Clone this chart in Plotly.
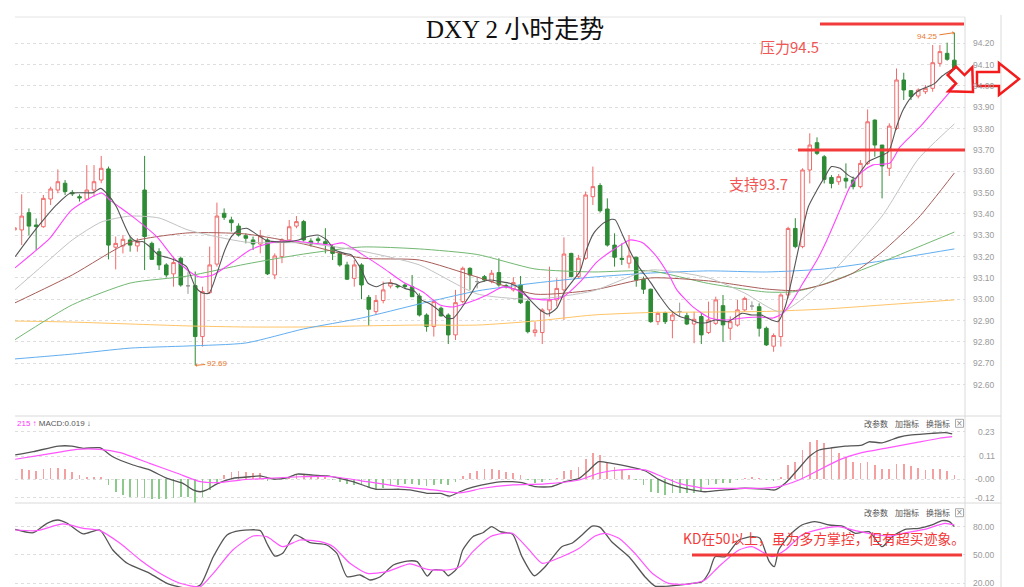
import plotly.graph_objects as go

# ---------------- data ----------------
candle_idx = list(range(-1, 130))
opens = [93.325,
 93.325, 93.406, 93.348, 93.340, 93.470, 93.512, 93.544, 93.501, 93.481, 93.469,
 93.512, 93.559, 93.611, 93.244, 93.250, 93.278, 93.250, 93.512, 93.262, 93.223,
 93.161, 93.119, 93.192, 93.063, 93.064, 92.825, 93.031, 93.165, 93.403, 93.372,
 93.343, 93.298, 93.278, 93.259, 93.278, 93.114, 93.200, 93.278, 93.343, 93.364,
 93.273, 93.283, 93.270, 93.247, 93.215, 93.161, 93.098, 93.161, 93.009, 92.942,
 92.994, 93.062, 93.062, 93.067, 93.059, 93.015, 92.926, 92.872, 92.958, 92.926,
 92.833, 92.989, 93.145, 93.083, 93.106, 93.083, 93.125, 93.064, 93.044, 93.067,
 92.989, 92.844, 92.844, 92.950, 92.997, 93.044, 93.215, 93.106, 93.192, 93.481,
 93.533, 93.423, 93.254, 93.192, 93.169, 93.197, 93.094, 93.047, 92.895, 92.937,
 92.900, 92.942, 92.923, 92.884, 92.919, 92.844, 92.887, 92.970, 92.864, 92.879,
 92.950, 92.968, 92.965, 92.864, 92.780, 92.825, 93.020, 93.332, 93.247, 93.606,
 93.734, 93.668, 93.571, 93.551, 93.567, 93.559, 93.528, 93.637, 93.840, 93.723,
 93.614, 93.801, 94.028, 93.978, 93.953, 93.973, 93.989, 94.106, 94.153, 94.121]
highs = [93.345,
 93.492, 93.426, 93.379, 93.489, 93.528, 93.609, 93.559, 93.512, 93.492, 93.629,
 93.629, 93.672, 93.622, 93.294, 93.301, 93.294, 93.286, 93.672, 93.270, 93.239,
 93.169, 93.200, 93.200, 93.130, 93.130, 93.059, 93.247, 93.453, 93.426, 93.387,
 93.356, 93.309, 93.294, 93.325, 93.286, 93.215, 93.286, 93.372, 93.390, 93.372,
 93.286, 93.294, 93.333, 93.254, 93.223, 93.176, 93.184, 93.169, 93.020, 93.020,
 93.083, 93.094, 93.067, 93.075, 93.114, 93.028, 92.934, 93.000, 92.966, 92.934,
 93.044, 93.153, 93.150, 93.106, 93.114, 93.137, 93.192, 93.072, 93.103, 93.109,
 92.997, 92.895, 92.958, 93.153, 93.098, 93.290, 93.218, 93.208, 93.505, 93.622,
 93.544, 93.473, 93.309, 93.262, 93.301, 93.200, 93.106, 93.050, 92.942, 92.942,
 92.942, 92.984, 92.937, 92.942, 92.937, 92.989, 93.012, 93.020, 92.920, 92.997,
 93.012, 92.990, 92.981, 92.872, 92.840, 93.028, 93.340, 93.380, 93.614, 93.778,
 93.759, 93.676, 93.582, 93.587, 93.637, 93.575, 93.653, 93.890, 93.843, 93.723,
 93.825, 94.082, 94.062, 93.981, 93.989, 94.004, 94.192, 94.192, 94.203, 94.250]
lows = [93.310,
 93.254, 93.300, 93.231, 93.335, 93.442, 93.497, 93.489, 93.484, 93.458, 93.465,
 93.481, 93.544, 93.187, 93.140, 93.215, 93.223, 93.223, 93.137, 93.184, 93.137,
 93.103, 93.059, 93.059, 93.025, 92.690, 92.778, 93.025, 93.153, 93.372, 93.317,
 93.294, 93.262, 93.231, 93.215, 93.114, 93.094, 93.169, 93.270, 93.333, 93.270,
 93.247, 93.262, 93.215, 93.184, 93.153, 93.090, 93.059, 93.000, 92.875, 92.926,
 92.981, 93.051, 93.051, 93.051, 93.012, 92.919, 92.848, 92.825, 92.919, 92.790,
 92.809, 92.981, 93.044, 93.051, 93.083, 93.075, 93.059, 93.051, 93.036, 92.978,
 92.840, 92.825, 92.790, 92.919, 92.966, 92.903, 93.103, 93.098, 93.184, 93.442,
 93.406, 93.247, 93.153, 93.161, 93.145, 93.059, 93.025, 92.890, 92.879, 92.884,
 92.817, 92.919, 92.879, 92.794, 92.790, 92.837, 92.879, 92.800, 92.809, 92.872,
 92.942, 92.950, 92.825, 92.781, 92.754, 92.778, 93.004, 93.239, 93.239, 93.543,
 93.676, 93.543, 93.520, 93.536, 93.520, 93.515, 93.520, 93.629, 93.668, 93.473,
 93.578, 93.793, 93.934, 93.934, 93.942, 93.962, 93.973, 94.090, 94.118, 94.075]
closes = [93.335,
 93.390, 93.343, 93.341, 93.473, 93.517, 93.551, 93.505, 93.494, 93.475, 93.512,
 93.551, 93.614, 93.254, 93.262, 93.281, 93.254, 93.270, 93.294, 93.187, 93.161,
 93.114, 93.172, 93.067, 93.063, 92.825, 93.036, 93.161, 93.390, 93.384, 93.359,
 93.301, 93.286, 93.259, 93.297, 93.119, 93.203, 93.278, 93.340, 93.364, 93.278,
 93.259, 93.275, 93.259, 93.215, 93.161, 93.094, 93.161, 93.067, 92.953, 92.994,
 93.044, 93.078, 93.059, 93.059, 93.012, 92.926, 92.872, 92.989, 92.922, 92.833,
 92.984, 93.145, 93.114, 93.083, 93.090, 93.122, 93.067, 93.059, 93.078, 92.984,
 92.848, 92.856, 92.950, 92.997, 93.051, 93.212, 93.106, 93.192, 93.489, 93.528,
 93.415, 93.254, 93.197, 93.187, 93.203, 93.090, 93.047, 92.895, 92.934, 92.895,
 92.926, 92.942, 92.884, 92.906, 92.833, 92.903, 92.997, 92.880, 92.895, 92.950,
 93.004, 92.968, 92.864, 92.786, 92.830, 93.020, 93.332, 93.247, 93.606, 93.723,
 93.684, 93.562, 93.543, 93.575, 93.554, 93.528, 93.637, 93.832, 93.723, 93.625,
 93.812, 94.028, 93.981, 93.950, 93.981, 93.989, 94.109, 94.161, 94.125, 94.082]
doji_idx = [23, 63, 91, 101]

# moving averages (candle position, price)
ma5_idx = [-0.9, 1.15, 3.0, 4.8, 6.7, 9.9, 10.9, 11.75, 13.1, 14.1, 15.0, 15.9, 16.8, 17.7, 18.9,
           20.0, 21.4, 22.8, 24.0, 24.9, 25.9, 27.0, 28.1, 29.0, 30.0, 31.1, 32.3, 33.7, 35.0, 36.9,
           38.3, 39.6, 41.0, 42.2, 43.3, 44.7, 45.6, 47.0, 47.9, 49.1, 50.2, 51.6, 53.0, 54.4, 55.3,
           56.5, 57.6, 58.8, 59.7, 60.8, 62.2, 63.1, 64.8, 66.2, 67.5, 68.9, 70.3, 71.7, 72.8, 74.0,
           75.1, 76.3, 77.2, 78.1, 79.1, 80.4, 81.6, 82.1, 83.2, 84.4, 85.5, 86.9, 88.3, 89.7, 91.0,
           92.4, 93.6, 94.7, 95.9, 97.7, 99.6, 101.0, 102.3, 103.7, 104.6, 105.6, 106.5, 107.9, 108.8,
           110.0, 111.1, 112.0, 113.2, 114.3, 115.3, 116.2, 117.1, 118.5, 119.9, 121.0, 121.9, 123.1,
           124.2, 125.4, 126.3, 127.2, 128.2, 128.9]
ma5_val = [93.200, 93.294, 93.372, 93.442, 93.497, 93.500, 93.520, 93.497, 93.434, 93.356, 93.294,
           93.270, 93.270, 93.247, 93.208, 93.197, 93.181, 93.153, 93.059, 93.031, 93.028, 93.122,
           93.231, 93.294, 93.325, 93.333, 93.309, 93.278, 93.270, 93.270, 93.278, 93.294, 93.301,
           93.278, 93.231, 93.215, 93.208, 93.137, 93.075, 93.059, 93.075, 93.072, 93.051, 93.036,
           92.997, 92.978, 92.950, 92.911, 92.911, 92.958, 93.028, 93.075, 93.090, 93.083, 93.075,
           93.051, 92.997, 92.950, 92.931, 92.958, 93.036, 93.090, 93.130, 93.231, 93.309, 93.356,
           93.375, 93.372, 93.294, 93.208, 93.145, 93.083, 93.012, 92.950, 92.919, 92.906, 92.890,
           92.890, 92.903, 92.895, 92.934, 92.926, 92.926, 92.903, 92.895, 92.965, 93.090, 93.309,
           93.434, 93.512, 93.575, 93.622, 93.614, 93.582, 93.567, 93.606, 93.645, 93.668, 93.692,
           93.809, 93.887, 93.950, 93.981, 93.997, 94.012, 94.043, 94.067, 94.083]
ma10_idx = [-0.93, 1.56, 3.91, 6.92, 11.07, 12.21, 15.39, 18.71, 20.93, 23.28, 24.66, 26.46, 29.23,
            31.58, 34.34, 37.11, 40.15, 42.64, 44.44, 47.21, 49.97, 52.74, 55.51, 57.86, 59.66, 62.0,
            64.36, 66.57, 68.51, 70.31, 72.66, 74.87, 77.22, 79.57, 81.78, 84.13, 85.93, 87.87, 89.67,
            90.64, 92.85, 95.2, 97.55, 99.76, 102.12, 103.91, 105.3, 106.68, 108.06, 110.0, 111.38,
            113.18, 114.56, 116.22, 117.75, 120.1, 121.48, 124.24, 126.6, 128.95]
ma10_val = [93.147, 93.217, 93.287, 93.419, 93.498, 93.465, 93.386, 93.292, 93.198, 93.128, 93.104,
            93.114, 93.175, 93.231, 93.264, 93.274, 93.264, 93.255, 93.264, 93.208, 93.147, 93.081,
            93.034, 92.973, 92.964, 92.987, 93.020, 93.058, 93.043, 93.006, 92.997, 93.011, 93.081,
            93.175, 93.231, 93.278, 93.264, 93.198, 93.104, 93.043, 92.964, 92.912, 92.903, 92.912,
            92.917, 92.912, 92.935, 92.997, 93.076, 93.184, 93.278, 93.419, 93.527, 93.597, 93.630,
            93.639, 93.714, 93.808, 93.902, 93.995]
ma20_idx = [-1, 3, 7, 11, 15, 19, 23, 31, 39, 47, 55, 63, 71, 79, 87, 95, 100, 105, 111, 119, 124, 129]
ma20_val = [93.043, 93.161, 93.278, 93.362, 93.390, 93.381, 93.325, 93.268, 93.264, 93.226, 93.161,
            93.025, 93.000, 93.039, 93.137, 93.100, 93.029, 92.940, 93.090, 93.390, 93.657, 93.822]
ma30_idx = [-1, 7, 15, 23, 31, 39, 47, 55, 63, 71, 79, 87, 95, 103, 107, 111, 115, 119, 124, 129]
ma30_val = [92.982, 93.114, 93.268, 93.311, 93.306, 93.259, 93.193, 93.184, 93.104, 93.024, 93.043,
            93.100, 93.086, 93.048, 93.041, 93.070, 93.123, 93.222, 93.381, 93.592]
ma60_idx = [-1, 7, 15, 23, 31, 39, 47, 55, 63, 71, 79, 87, 95, 103, 107, 111, 119, 124, 129]
ma60_val = [92.809, 92.974, 93.076, 93.109, 93.165, 93.212, 93.245, 93.236, 93.210, 93.142, 93.128,
            93.133, 93.074, 93.034, 93.036, 93.072, 93.175, 93.245, 93.315]
slow_idx = [-1, 7, 15, 23, 31, 39, 47, 55, 63, 71, 79, 87, 95, 103, 111, 119, 129]
ma120_val = [92.720, 92.743, 92.771, 92.781, 92.795, 92.861, 92.912, 92.978, 93.039, 93.076, 93.104,
             93.123, 93.133, 93.128, 93.142, 93.180, 93.236]
ma250_val = [92.898, 92.893, 92.884, 92.875, 92.870, 92.870, 92.875, 92.879, 92.879, 92.898, 92.926,
             92.938, 92.940, 92.943, 92.954, 92.973, 92.997]

# MACD
dif_idx = [-0.9, 1.6, 5.1, 6.9, 8.5, 10.8, 12.6, 15.4, 17.7, 20.1, 22.3, 23.7, 24.7, 25.6, 27.0, 29.2,
           31.6, 33.0, 34.8, 36.7, 38.1, 40.3, 42.2, 44.0, 45.8, 47.8, 49.1, 52.3, 53.7, 56.1, 57.9,
           59.2, 60.6, 62.4, 64.8, 66.6, 67.9, 69.2, 71.0, 73.3, 75.1, 77.1, 78.5, 79.8, 81.6, 84.0,
           86.2, 88.1, 89.9, 92.7, 94.5, 97.3, 100.0, 102.8, 104.2, 105.6, 107.5, 108.9, 110.3, 112.1,
           113.9, 116.2, 117.2, 119.0, 121.3, 123.1, 125.9, 127.7, 128.7]
dif_val = [0.117, 0.133, 0.160, 0.160, 0.149, 0.152, 0.108, 0.068, 0.044, 0.003, -0.021, -0.053,
           -0.062, -0.053, -0.024, 0.003, 0.011, 0.015, 0.000, 0.006, 0.024, 0.019, 0.015, 0.003,
           -0.013, -0.037, -0.050, -0.050, -0.053, -0.070, -0.070, -0.083, -0.062, -0.040, -0.021,
           -0.013, -0.013, -0.018, -0.037, -0.037, -0.013, 0.003, 0.044, 0.084, 0.076, 0.060, 0.040,
           -0.002, -0.029, -0.053, -0.062, -0.053, -0.045, -0.049, -0.053, -0.021, 0.052, 0.108,
           0.141, 0.152, 0.160, 0.165, 0.181, 0.176, 0.203, 0.214, 0.222, 0.225, 0.219]
dea_idx = [-0.9, 2.9, 7.6, 10.8, 13.6, 17.7, 21.5, 24.7, 27.0, 30.2, 33.9, 38.5, 43.1, 47.8, 52.3, 56.9,
           60.6, 63.8, 67.9, 72.4, 77.1, 79.8, 81.6, 84.0, 86.2, 88.6, 90.9, 94.5, 97.8, 102.4, 104.7,
           107.5, 110.3, 113.0, 116.2, 119.4, 123.1, 126.9, 128.7]
dea_val = [0.096, 0.117, 0.144, 0.144, 0.128, 0.076, 0.028, -0.013, -0.018, -0.005, 0.003, 0.011,
           0.011, -0.013, -0.037, -0.053, -0.067, -0.045, -0.029, -0.024, -0.005, 0.028, 0.040, 0.047,
           0.044, 0.011, -0.021, -0.045, -0.045, -0.045, -0.037, -0.005, 0.044, 0.092, 0.128, 0.149,
           0.173, 0.198, 0.206]
macd_hist = [0.047, 0.044, 0.040, 0.047, 0.052, 0.055, 0.047, 0.036, 0.019, 0.011, 0.011, 0.011,
             -0.029, -0.062, -0.078, -0.086, -0.089, -0.094, -0.099, -0.099, -0.099, -0.094, -0.089,
             -0.089, -0.118, -0.089, -0.054, -0.013,
             0.019, 0.036, 0.039, 0.036, 0.028, 0.028, -0.010, -0.005,
             0.011, 0.011, 0.024, 0.019, 0.015, 0.015, 0.011,
             -0.005, -0.013, -0.024, -0.029, -0.029, -0.040, -0.054, -0.045, -0.034, -0.029, -0.024,
             -0.024, -0.029, -0.034, -0.029, -0.024, -0.029, -0.013,
             0.015, 0.031, 0.040, 0.047, 0.047, 0.044, 0.036, 0.031, 0.019,
             -0.005, -0.018, -0.013, -0.005,
             0.003, 0.039, 0.044, 0.057, 0.096, 0.125, 0.117, 0.084, 0.057, 0.044, 0.019,
             -0.005, -0.029, -0.062, -0.070, -0.078, -0.070, -0.070, -0.067, -0.067, -0.062, -0.029,
             -0.024, -0.021, -0.018, -0.005,
             0.006, 0.011, 0.006, -0.005, -0.008,
             0.011, 0.068, 0.084, 0.141, 0.181, 0.190, 0.173, 0.149, 0.128, 0.105, 0.084, 0.076,
             0.084, 0.068, 0.047, 0.047, 0.071, 0.073, 0.063, 0.052, 0.044, 0.047, 0.047, 0.039, 0.019]
hist_idx = list(range(0, 130))

# KD
k_idx = [-0.9, 1.6, 3.5, 5.0, 6.3, 8.5, 10.8, 12.6, 14.6, 17.7, 20.1, 22.9, 24.7, 26.5, 28.4, 30.2,
         33.0, 33.9, 35.0, 36.1, 37.8, 39.9, 42.2, 43.6, 45.0, 46.8, 48.2, 49.6, 51.4, 53.3, 54.7,
         56.1, 56.9, 58.3, 59.0, 60.2, 61.0, 62.4, 63.8, 65.0, 66.2, 67.9, 69.2, 70.9, 72.4, 74.7,
         76.1, 77.5, 78.9, 80.0, 81.6, 84.0, 86.2, 87.6, 90.9, 92.7, 94.1, 95.1, 95.9, 97.3, 99.2,
         101.0, 102.1, 103.4, 104.1, 104.7, 106.1, 107.9, 109.7, 111.7, 113.5, 115.3, 117.2, 119.0,
         120.4, 122.2, 124.1, 125.9, 127.3, 128.3, 129.0]
k_val = [77.2, 73.6, 83.6, 87.1, 83.6, 72.3, 76.5, 55.3, 41.2, 30.6, 20.0, 14.7, 18.2, 48.2, 71.2,
         75.8, 75.8, 62.4, 48.9, 51.8, 71.2, 63.0, 60.6, 51.8, 27.0, 28.8, 23.5, 27.0, 39.4, 43.6,
         42.9, 27.7, 34.1, 33.4, 28.0, 35.9, 55.3, 69.4, 73.6, 80.0, 74.7, 72.0, 48.2, 28.0, 37.6,
         58.8, 62.4, 71.2, 80.7, 79.3, 64.1, 48.2, 27.0, 17.1, 18.2, 20.0, 21.7, 32.3, 48.2, 48.2,
         65.9, 69.4, 67.7, 42.9, 37.6, 55.3, 70.1, 81.8, 85.3, 81.8, 80.7, 73.0, 74.7, 58.8, 69.4,
         77.2, 78.3, 81.8, 86.4, 85.3, 80.0]
d_idx = [-0.9, 2.1, 5.7, 8.5, 10.8, 13.6, 16.4, 19.1, 21.9, 24.7, 26.5, 29.2, 32.0, 33.9, 36.1, 38.5,
         41.3, 43.1, 45.4, 47.8, 50.5, 53.7, 56.1, 58.8, 60.6, 62.4, 64.8, 66.6, 67.9, 70.2, 72.0,
         74.7, 77.1, 79.3, 80.7, 82.6, 84.8, 87.2, 89.5, 92.3, 94.5, 96.4, 99.2, 101.0, 103.8, 105.6,
         107.9, 110.3, 113.0, 115.3, 117.6, 120.0, 122.2, 124.9, 127.7, 129.0]
d_val = [76.5, 75.8, 82.9, 78.3, 75.8, 62.4, 44.7, 30.6, 20.0, 16.4, 30.6, 55.3, 70.1, 69.4, 58.8,
         65.9, 64.1, 58.8, 41.2, 30.6, 32.3, 40.5, 34.8, 34.1, 37.6, 53.5, 69.4, 73.0, 73.0, 55.3,
         41.2, 48.2, 57.1, 70.1, 73.0, 67.7, 51.8, 30.6, 20.0, 19.2, 23.5, 37.6, 55.3, 58.8, 48.2,
         55.3, 71.2, 77.2, 80.0, 75.8, 72.3, 70.1, 73.6, 77.2, 83.6, 81.8]

price_ticks = [94.20, 94.10, 94.00, 93.90, 93.80, 93.70, 93.60, 93.50, 93.40, 93.30, 93.20,
               93.10, 93.00, 92.90, 92.80, 92.70, 92.60]
macd_ticks = [0.23, 0.11, 0.0, -0.091]
macd_tick_text = ["0.23", "0.11", "-0.00", "-0.12"]
kd_ticks = [80, 50, 20]
kd_tick_text = ["80.00", "50.00", "20.00"]

# ---------------- figure ----------------
W, H = 1024, 587
def px(x):
    return x / W
def py(y):
    return 1 - y / H

UP = "#f06a6a"
DOWN = "#2e8b35"

fig = go.Figure()

normal = [k for k, i in enumerate(candle_idx) if i not in doji_idx]
dj = [k for k, i in enumerate(candle_idx) if i in doji_idx]
fig.add_trace(go.Candlestick(
    x=[candle_idx[k] for k in normal], open=[opens[k] for k in normal],
    high=[highs[k] for k in normal], low=[lows[k] for k in normal],
    close=[closes[k] for k in normal],
    increasing=dict(line=dict(color=UP, width=1), fillcolor="white"),
    decreasing=dict(line=dict(color=DOWN, width=1), fillcolor=DOWN),
    whiskerwidth=0, xaxis="x", yaxis="y", hoverinfo="skip"))
fig.add_trace(go.Candlestick(
    x=[candle_idx[k] for k in dj], open=[opens[k] for k in dj],
    high=[highs[k] for k in dj], low=[lows[k] for k in dj],
    close=[closes[k] for k in dj],
    increasing=dict(line=dict(color="#999999", width=1), fillcolor="#999999"),
    decreasing=dict(line=dict(color="#999999", width=1), fillcolor="#999999"),
    whiskerwidth=0, xaxis="x", yaxis="y", hoverinfo="skip"))

def line(xs, ys, color, width=1.0, xa="x", ya="y"):
    fig.add_trace(go.Scatter(x=xs, y=ys, mode="lines", xaxis=xa, yaxis=ya,
                             line=dict(color=color, width=width, shape="spline", smoothing=0.6),
                             hoverinfo="skip"))

line(slow_idx, ma250_val, "#ffc468")
line(slow_idx, ma120_val, "#62aef0")
line(ma60_idx, ma60_val, "#72b872")
line(ma30_idx, ma30_val, "#a85c58")
line(ma20_idx, ma20_val, "#c2c2c2")
line(ma10_idx, ma10_val, "#ff44ff", 1.1)
line(ma5_idx, ma5_val, "#555555", 1.1)

# MACD panel
fig.add_trace(go.Bar(x=hist_idx, y=macd_hist, xaxis="x2", yaxis="y2", width=0.24,
                     marker=dict(color=["#f4a0a0" if v >= 0 else "#8cca8c" for v in macd_hist],
                                 line=dict(width=0)), hoverinfo="skip"))
line(dif_idx, dif_val, "#555555", 1.3, "x2", "y2")
line(dea_idx, dea_val, "#ff55ff", 1.2, "x2", "y2")

# KD panel
line(k_idx, k_val, "#555555", 1.3, "x3", "y3")
line(d_idx, d_val, "#ff55ff", 1.2, "x3", "y3")

xdom = [px(15), px(965)]
xr = [-0.927, 130.47]
grid = dict(showgrid=True, gridcolor="#dedede", griddash="dot", gridwidth=1,
            zeroline=False, showticklabels=False, ticks="", showline=False)
fig.update_layout(
    width=W, height=H, margin=dict(l=0, r=0, t=0, b=0),
    paper_bgcolor="white", plot_bgcolor="white", showlegend=False,
    bargap=0,
    xaxis=dict(domain=xdom, range=xr, anchor="y", showgrid=False, zeroline=False,
               showticklabels=False, rangeslider=dict(visible=False), fixedrange=True),
    xaxis2=dict(domain=xdom, range=xr, anchor="y2", matches="x", showgrid=False,
                zeroline=False, showticklabels=False),
    xaxis3=dict(domain=xdom, range=xr, anchor="y3", matches="x", showgrid=False,
                zeroline=False, showticklabels=False),
    yaxis=dict(domain=[py(416), py(17)], range=[92.4527, 94.3233], tickvals=price_ticks, **grid),
    yaxis2=dict(domain=[py(503), py(416)], range=[-0.1167, 0.3063], tickvals=macd_ticks, **grid),
    yaxis3=dict(domain=[0, py(503)], range=[16.08, 105.1], tickvals=kd_ticks, **grid),
)

shapes = []
def seg(x0, y0, x1, y1, color="#dddddd", width=1):
    shapes.append(dict(type="line", xref="paper", yref="paper", x0=px(x0), y0=py(y0),
                       x1=px(x1), y1=py(y1), line=dict(color=color, width=width), layer="above"))

seg(15, 17, 965, 17, "#e4e4e4")
seg(15, 416, 1001, 416, "#dadada")
seg(15, 503, 1001, 503, "#dadada")
seg(965, 17, 965, 587, "#dadada")
seg(1001, 15, 1001, 587, "#dadada")

RED = "#f23a3a"
seg(820, 24, 964, 24, RED, 3)
shapes.append(dict(type="line", xref="paper", yref="y", x0=px(798), x1=px(965), y0=93.70, y1=93.70,
                   line=dict(color=RED, width=3), layer="above"))
shapes.append(dict(type="line", xref="paper", yref="y3", x0=px(692), x1=px(962), y0=50, y1=50,
                   line=dict(color=RED, width=3), layer="above"))

def poly(pts):
    p = "M " + " L ".join(f"{px(x):.5f},{py(y):.5f}" for x, y in pts) + " Z"
    return dict(type="path", xref="paper", yref="paper", path=p,
                line=dict(color="#f21c1c", width=2.5), fillcolor="rgba(255,255,255,0)", layer="above")

shapes.append(poly([(973, 92), (972.3, 67.3), (964.5, 75.1), (956.0, 66.6), (947.6, 75.0),
                    (956.1, 83.5), (948.3, 91.3)]))
shapes.append(poly([(977, 72), (999, 72), (999, 63), (1019, 79), (999, 95), (999, 86), (977, 86)]))

for yy in (423.3, 512.7):
    shapes.append(dict(type="rect", xref="paper", yref="paper", x0=px(955.5), x1=px(963.5),
                       y0=py(yy - 4), y1=py(yy + 4), line=dict(color="#aaaaaa", width=1)))
fig.update_layout(shapes=shapes)

ann = []
def text(x, y, s, size=9, color="#999999", anchor="left", family="Liberation Sans", yref="paper"):
    ann.append(dict(x=px(x), y=(py(y) if yref == "paper" else y), xref="paper", yref=yref,
                    text=s, showarrow=False, xanchor=anchor, yanchor="middle",
                    font=dict(size=size, color=color, family=family)))

for v in price_ticks:
    text(997, v, f"{v:.2f}", 8.5, "#9a9a9a", "right", yref="y")
for v, s in zip(macd_ticks, macd_tick_text):
    text(997, v, s, 8.5, "#9a9a9a", "right", yref="y2")
for v, s in zip(kd_ticks, kd_tick_text):
    text(997, v, s, 8.5, "#9a9a9a", "right", yref="y3")

text(515, 29, "DXY 2 小时走势", 25, "#111111", "center", "Liberation Serif, Noto Sans CJK SC")
text(758, 46, "压力94.5", 15, "#f25555", "left", "Noto Sans CJK SC")
text(727, 183, "支持93.7", 15, "#f25555", "left", "Noto Sans CJK SC")
text(681, 538, "KD在50以上，虽为多方掌控，但有超买迹象。", 13.8, "#f23a3a", "left", "Noto Sans CJK SC")

for yy in (423.3, 512.7):
    text(875.5, yy, "改参数", 8, "#555555", "center", "Noto Sans CJK SC")
    text(907, yy, "加指标", 8, "#555555", "center", "Noto Sans CJK SC")
    text(938, yy, "换指标", 8, "#555555", "center", "Noto Sans CJK SC")
    text(959.5, yy, "×", 8, "#888888", "center", "DejaVu Sans")

text(15, 423.7, "<span style='color:#ff33ff'>215 ↑</span> <span style='color:#555555'>MACD:0.019 ↓</span>",
     8, "#555555", "left", "Liberation Sans")

ann.append(dict(x=24, y=92.69, xref="x", yref="y", text="92.69", showarrow=True,
                arrowhead=1, arrowsize=0.6, arrowwidth=1, arrowcolor="#e87a30", ax=22, ay=-2,
                font=dict(size=8, color="#e87a30", family="Liberation Sans")))
ann.append(dict(x=129, y=94.25, xref="x", yref="y", text="94.25", showarrow=True,
                arrowhead=1, arrowsize=0.6, arrowwidth=1, arrowcolor="#e87a30", ax=-27, ay=4,
                font=dict(size=8, color="#e87a30", family="Liberation Sans")))
fig.update_layout(annotations=ann)

fig.write_html("out.html", config={"displayModeBar": False, "staticPlot": True},
               post_script="document.body.style.margin='0';document.body.style.overflow='hidden';")
